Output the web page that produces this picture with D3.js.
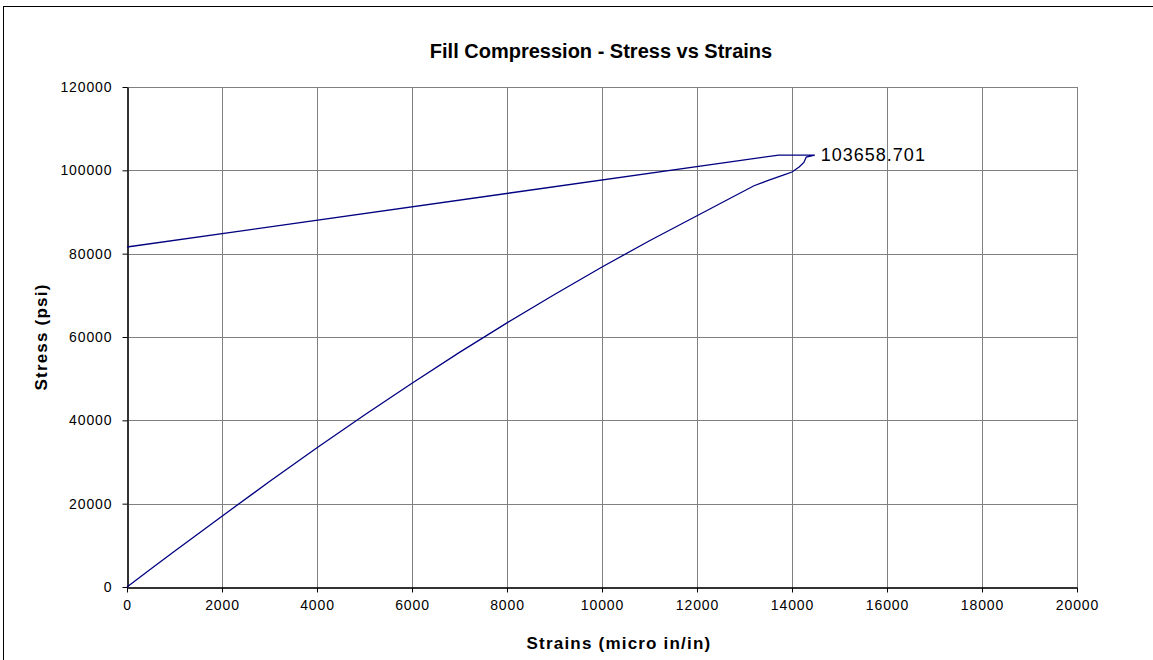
<!DOCTYPE html>
<html>
<head>
<meta charset="utf-8">
<script src="https://cdn.jsdelivr.net/npm/d3@7"></script>
<style>
  html, body { margin: 0; padding: 0; background: #fff; }
  svg { display: block; font-family: "Liberation Sans", Arial, sans-serif; }
</style>
</head>
<body>
<svg id="chart" width="1153" height="660"></svg>
<script>
// Test record: strain (micro in/in) and stress (psi), in acquisition order
const strain = [0, 500, 1000, 2000, 3000, 4000, 5000, 6000, 7000, 8000, 9000, 10000,
  11000, 12000, 12600, 13200, 13500, 13800, 14000, 14150, 14250, 14300, 14480,
  13720, 0];
const stress = [0, 4300, 8600, 17000, 25300, 33400, 41300, 48900, 56300, 63400, 70200, 76800,
  83100, 89100, 92700, 96300, 97600, 98800, 99600, 100800, 101900, 103200, 103658.701,
  103658.701, 81600];

const xTicks = [0, 2000, 4000, 6000, 8000, 10000, 12000, 14000, 16000, 18000, 20000];
const yTicks = [0, 20000, 40000, 60000, 80000, 100000, 120000];
const peakLabel = "103658.701";

const svg = d3.select("#chart");
const plot = { left: 127, top: 87, right: 1077, bottom: 587 };

// outer chart frame
svg.append("rect")
  .attr("x", 3.5).attr("y", 6.5)
  .attr("width", 1160).attr("height", 660)
  .attr("fill", "#fff").attr("stroke", "#000").attr("stroke-width", 1);

const x = d3.scaleLinear().domain([0, 20000]).range([plot.left, plot.right]);
const y = d3.scaleLinear().domain([0, 120000]).range([plot.bottom, plot.top]);

// gridlines
const grid = svg.append("g");
grid.selectAll("line.v").data(xTicks.slice(1)).join("line")
  .attr("x1", d => Math.round(x(d)) + 0.5).attr("x2", d => Math.round(x(d)) + 0.5)
  .attr("y1", plot.top).attr("y2", plot.bottom)
  .attr("stroke", "#808080").attr("stroke-width", 1);
grid.selectAll("line.h").data(yTicks.slice(1)).join("line")
  .attr("x1", plot.left).attr("x2", plot.right)
  .attr("y1", d => Math.round(y(d)) + 0.5).attr("y2", d => Math.round(y(d)) + 0.5)
  .attr("stroke", "#808080").attr("stroke-width", 1);

// axes
const xAxis = svg.append("g")
  .attr("transform", `translate(0,${plot.bottom + 0.5})`)
  .call(d3.axisBottom(x).tickValues(xTicks).tickFormat(d3.format("d")).tickSize(5).tickSizeOuter(0).tickPadding(8));
const yAxis = svg.append("g")
  .attr("transform", `translate(${plot.left + 0.5},0)`)
  .call(d3.axisLeft(y).tickValues(yTicks).tickFormat(d3.format("d")).tickSize(5).tickSizeOuter(0).tickPadding(10));
[xAxis, yAxis].forEach(g => {
  g.select(".domain").attr("stroke", "#333").attr("stroke-width", 2);
  g.selectAll(".tick line").attr("stroke", "#000");
  g.selectAll(".tick text").attr("fill", "#000")
    .style("font-size", "14px").style("letter-spacing", "0.9px")
    .style("font-family", "'Liberation Sans', Arial, sans-serif");
});

// stress-strain trace
const pts = strain.map((s, i) => [s, stress[i]]);
svg.append("path")
  .datum(pts)
  .attr("fill", "none")
  .attr("stroke", "#000080")
  .attr("stroke-width", 1.3)
  .attr("d", d3.line().x(d => x(d[0])).y(d => y(d[1])));

// peak value label
const iPeak = d3.maxIndex(stress);
svg.append("text")
  .attr("x", x(strain[iPeak]) + 6)
  .attr("y", y(stress[iPeak]))
  .attr("dy", "0.35em")
  .style("font-size", "18px").style("letter-spacing", "1px")
  .text(peakLabel);

// titles
svg.append("text")
  .attr("x", 601).attr("y", 58)
  .attr("text-anchor", "middle")
  .style("font-size", "20px").style("font-weight", "bold")
  .text("Fill Compression - Stress vs Strains");
svg.append("text")
  .attr("x", 619).attr("y", 649)
  .attr("text-anchor", "middle")
  .style("font-size", "17px").style("font-weight", "bold").style("letter-spacing", "1.2px")
  .text("Strains (micro in/in)");
svg.append("text")
  .attr("transform", `translate(47,${(plot.top + plot.bottom) / 2}) rotate(-90)`)
  .attr("text-anchor", "middle")
  .style("font-size", "17px").style("font-weight", "bold").style("letter-spacing", "1.2px")
  .text("Stress (psi)");
</script>
</body>
</html>
